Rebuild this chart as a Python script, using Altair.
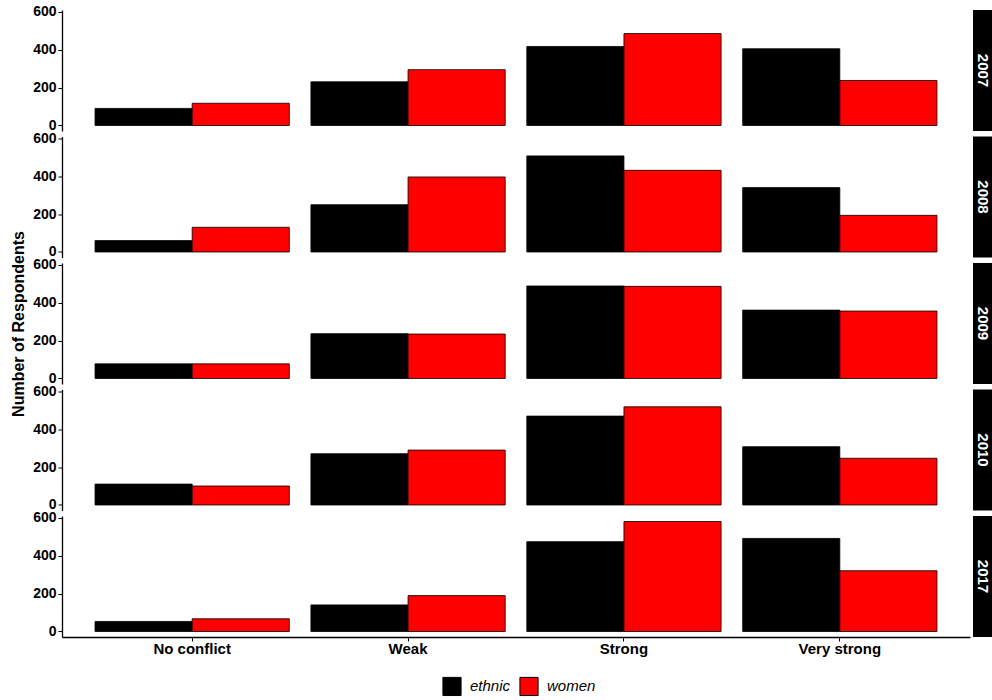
import altair as alt
import pandas as pd

# Survey: perceived intensity of conflict, by year and conflict type
years = ["2007", "2008", "2009", "2010", "2017"]
categories = ["No conflict", "Weak", "Strong", "Very strong"]
groups = ["ethnic", "women"]

ethnic = {
    "2007": [90, 230, 416, 404],
    "2008": [60, 249, 506, 339],
    "2009": [77, 236, 487, 360],
    "2010": [110, 270, 468, 307],
    "2017": [53, 140, 473, 490],
}
women = {
    "2007": [117, 294, 484, 237],
    "2008": [130, 395, 430, 193],
    "2009": [77, 234, 485, 355],
    "2010": [100, 289, 517, 246],
    "2017": [67, 189, 579, 320],
}

rows = []
for y in years:
    for i, c in enumerate(categories):
        rows.append({"year": y, "category": c, "group": "ethnic", "count": ethnic[y][i]})
        rows.append({"year": y, "category": c, "group": "women", "count": women[y][i]})
df = pd.DataFrame(rows)

FONT = "Liberation Sans"
W = 908
H = 121

bars = alt.Chart().mark_bar(stroke="black", strokeWidth=0.8).encode(
    x=alt.X(
        "category:N",
        sort=categories,
        title=None,
        scale=alt.Scale(paddingInner=0.1, paddingOuter=0.153),
        axis=alt.Axis(
            labelAngle=0,
            labelFont=FONT,
            labelFontSize=15,
            labelFontWeight="bold",
            labelColor="black",
            labelPadding=0,
            domainColor="black",
            domainWidth=1.3,
            tickColor="black",
            tickSize=4,
        ),
    ),
    xOffset=alt.XOffset("group:N", sort=groups, scale=alt.Scale(paddingInner=0, paddingOuter=0)),
    y=alt.Y(
        "count:Q",
        title=None,
        scale=alt.Scale(domain=[-29, 608], nice=False, zero=False),
        axis=alt.Axis(
            values=[0, 200, 400, 600],
            grid=False,
            labelFont=FONT,
            labelFontSize=14,
            labelFontWeight="bold",
            labelColor="black",
            labelPadding=2,
            domainColor="black",
            domainWidth=1.3,
            tickColor="black",
            tickSize=4,
        ),
    ),
    y2=alt.datum(0),
    color=alt.Color(
        "group:N",
        sort=groups,
        scale=alt.Scale(domain=groups, range=["#000000", "#FF0000"]),
        legend=alt.Legend(
            title=None,
            orient="none",
            direction="horizontal",
            legendX=380,
            legendY=666,
            symbolType="square",
            symbolSize=330,
            symbolStrokeColor="black",
            symbolStrokeWidth=1,
            labelFont=FONT,
            labelFontSize=15,
            labelFontStyle="italic",
            labelColor="black",
            labelOffset=8,
            columnPadding=6,
        ),
    ),
)

# Year strip on the right of each panel
base_one = alt.Chart().transform_filter(
    (alt.datum.category == "No conflict") & (alt.datum.group == "ethnic")
)
strip = base_one.mark_rect(color="black").encode(
    x=alt.value(W + 3),
    x2=alt.value(W + 22),
    y=alt.value(0),
    y2=alt.value(H),
)
strip_text = base_one.mark_text(
    angle=90, color="white", font=FONT, fontSize=15, fontWeight="bold",
    align="center", baseline="middle",
).encode(
    x=alt.value(W + 13),
    y=alt.value(H / 2),
    text="year:N",
)

chart = (
    alt.layer(bars, strip, strip_text, data=df)
    .properties(width=W, height=H)
    .facet(
        row=alt.Row(
            "year:N",
            sort=years,
            header=alt.Header(
                title="Number of Respondents",
                titleOrient="left",
                titleFont=FONT,
                titleFontSize=16,
                titleFontWeight="bold",
                titleColor="black",
                labels=False,
                titlePadding=-5,
            ),
        ),
        spacing=5.5,
    )
    .configure_view(stroke=None)
    .properties(padding={"left": 10, "top": 4, "right": 0, "bottom": 0}, background="white")
)

chart.save("out.html", embed_options={"renderer": "svg", "actions": False})
